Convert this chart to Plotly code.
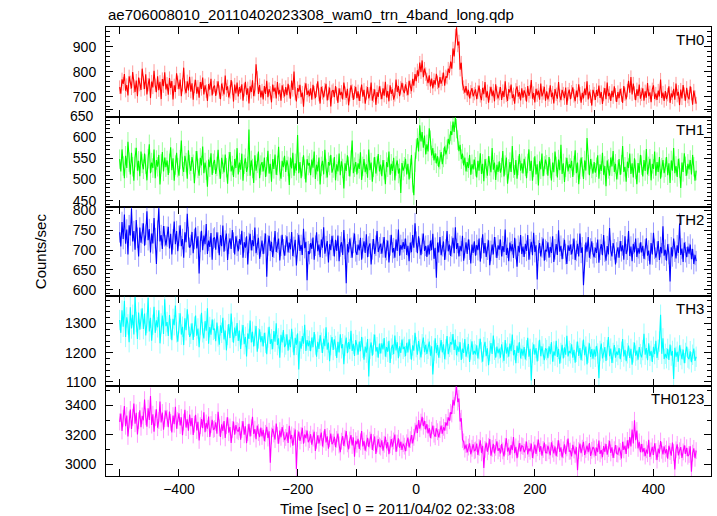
import plotly.graph_objects as go
from plotly.subplots import make_subplots

T_START = -500
T_STEP = 2

TH0 = [738, 712, 769, 751, 790, 724, 746, 705, 781, 757, 733, 798, 741, 719, 764, 702, 776, 748, 727, 812,
       756, 731, 789, 709, 748, 772, 694, 760, 737, 803, 745, 718, 781, 726, 759, 690, 770, 742, 797, 729,
       751, 708, 774, 735, 762, 689, 745, 719, 793, 757, 730, 768, 702, 748, 816, 736, 714, 761, 725, 779,
       720, 753, 688, 741, 767, 712, 739, 696, 758, 731, 776, 709, 745, 722, 683, 750, 728, 771, 705, 737,
       744, 703, 735, 761, 718, 690, 752, 729, 709, 784, 726, 741, 697, 719, 766, 734, 680, 748, 713, 756,
       701, 738, 716, 749, 684, 727, 759, 708, 733, 672, 741, 719, 765, 702, 728, 830, 775, 711, 746, 697,
       724, 689, 742, 711, 763, 698, 730, 715, 677, 748, 720, 736, 693, 758, 709, 727, 684, 745, 722, 701,
       738, 706, 751, 719, 692, 764, 727, 800, 712, 681, 734, 720, 747, 698, 716, 659, 729, 753, 707, 724,
       702, 733, 688, 747, 716, 694, 725, 761, 708, 672, 739, 715, 697, 728, 751, 685, 713, 736, 660, 721,
       726, 698, 742, 711, 675, 733, 706, 719, 689, 756, 714, 695, 731, 665, 708, 745, 722, 687, 716, 739,
       694, 721, 683, 709, 748, 700, 727, 672, 715, 738, 693, 711, 756, 684, 704, 729, 667, 718, 699, 741,
       716, 690, 733, 704, 759, 697, 722, 681, 745, 711, 729, 688, 707, 768, 719, 742, 702, 735, 755, 726,
       714, 749, 731, 706, 763, 738, 722, 771, 744, 790, 762, 805, 782, 836, 798, 845, 778, 812, 790, 769,
       754, 785, 741, 772, 733, 766, 748, 791, 757, 736, 778, 752, 769, 796, 744, 781, 776, 812, 795, 840,
       812, 893, 861, 944, 978, 905, 921, 808, 836, 752, 738, 716, 742, 705, 727, 693, 719, 734, 701, 712,
       729, 690, 718, 744, 703, 686, 735, 710, 758, 697, 721, 676, 713, 739, 702, 724, 681, 749, 715, 693,
       712, 738, 687, 722, 699, 761, 705, 683, 730, 716, 748, 694, 709, 672, 727, 741, 700, 718, 685, 733,
       696, 725, 711, 680, 742, 703, 719, 766, 692, 714, 677, 731, 706, 724, 688, 752, 701, 715, 739, 684,
       721, 689, 707, 745, 698, 716, 673, 730, 709, 692, 758, 704, 686, 727, 712, 694, 736, 667, 711, 728,
       690, 719, 737, 703, 682, 724, 698, 749, 711, 676, 715, 693, 732, 706, 761, 689, 720, 701, 664, 727,
       712, 687, 726, 703, 744, 695, 718, 671, 709, 734, 690, 756, 702, 715, 683, 723, 698, 741, 707, 679,
       718, 694, 731, 706, 675, 742, 710, 689, 724, 763, 716, 778, 709, 752, 714, 686, 729, 703, 748, 692,
       709, 733, 684, 721, 696, 754, 702, 717, 678, 729, 745, 691, 712, 687, 724, 701, 768, 695, 716, 683,
       722, 690, 708, 741, 675, 713, 697, 731, 688, 752, 704, 719, 666, 728, 693, 746, 710, 684, 735, 700,
       689, 741, 712, 668, 724, 698, 672]

TH1 = [548, 519, 571, 532, 503, 556, 527, 589, 541, 512, 563, 530, 497, 552, 575, 521, 544, 508, 566, 538,
       524, 561, 536, 498, 549, 583, 515, 540, 527, 571, 503, 546, 530, 558, 488, 537, 565, 519, 552, 529,
       545, 511, 538, 576, 522, 550, 497, 534, 563, 528, 509, 547, 592, 531, 518, 556, 540, 502, 569, 535,
       520, 553, 536, 491, 544, 567, 526, 509, 551, 533, 578, 515, 540, 522, 483, 547, 529, 562, 511, 538,
       546, 513, 531, 570, 524, 502, 551, 536, 517, 559, 528, 490, 542, 565, 519, 533, 506, 548, 527, 574,
       512, 540, 523, 561, 497, 536, 550, 518, 531, 618, 509, 545, 526, 492, 557, 521, 538, 566, 503, 534,
       541, 519, 552, 506, 530, 568, 514, 537, 495, 548, 525, 559, 511, 533, 577, 520, 502, 544, 529, 556,
       518, 545, 531, 487, 552, 526, 563, 509, 538, 521, 605, 515, 541, 503, 530, 557, 524, 493, 548, 533,
       539, 510, 547, 528, 566, 501, 535, 519, 552, 488, 531, 544, 512, 570, 526, 505, 541, 533, 558, 516,
       527, 553, 498, 536, 519, 561, 510, 543, 526, 479, 538, 520, 557, 531, 507, 546, 592, 515, 529, 541,
       512, 538, 525, 564, 499, 531, 548, 517, 536, 504, 571, 522, 540, 495, 529, 553, 514, 532, 560, 519,
       535, 508, 546, 523, 489, 541, 529, 566, 511, 537, 520, 551, 498, 532, 545, 514, 526, 468, 539, 521,
       530, 549, 512, 537, 500, 526, 558, 492, 463, 541, 572, 598, 566, 628, 590, 612, 575, 604, 559, 583,
       566, 621, 593, 557, 574, 545, 562, 538, 555, 529, 547, 565, 536, 552, 578, 559, 571, 596, 583, 614,
       605, 637, 612, 646, 620, 593, 567, 582, 548, 561, 533, 552, 519, 541, 527, 558, 511, 536, 524, 547,
       530, 505, 544, 521, 562, 513, 537, 496, 548, 526, 509, 555, 532, 517, 574, 523, 540, 499, 535, 518,
       543, 516, 528, 567, 507, 534, 552, 490, 525, 541, 518, 579, 527, 511, 546, 502, 533, 560, 521, 538,
       514, 549, 531, 503, 538, 571, 520, 544, 497, 529, 555, 512, 536, 486, 543, 524, 561, 508, 532, 547,
       535, 509, 553, 526, 498, 540, 517, 566, 531, 505, 547, 522, 582, 513, 538, 494, 529, 551, 519, 536,
       527, 544, 506, 533, 569, 515, 540, 489, 524, 552, 530, 501, 545, 521, 598, 535, 510, 548, 526, 514,
       541, 516, 529, 557, 502, 536, 520, 563, 511, 532, 484, 545, 525, 509, 552, 531, 567, 518, 537, 500,
       523, 548, 511, 535, 579, 518, 530, 495, 542, 527, 561, 513, 538, 505, 550, 524, 489, 539, 516, 558,
       534, 507, 546, 520, 572, 512, 531, 549, 498, 537, 525, 566, 509, 541, 518, 553, 502, 528, 546, 515,
       529, 553, 510, 538, 492, 545, 521, 574, 515, 532, 506, 549, 527, 480, 540, 518, 562, 531, 509, 537,
       524, 546, 512, 558, 530, 497, 521]

TH2 = [745, 709, 771, 728, 790, 716, 752, 689, 763, 737, 805, 722, 748, 701, 776, 731, 684, 757, 719, 742,
       768, 711, 739, 798, 725, 753, 694, 742, 717, 781, 730, 665, 749, 806, 722, 738, 703, 761, 735, 712,
       734, 759, 704, 741, 689, 727, 772, 715, 748, 697, 736, 763, 710, 728, 681, 745, 720, 792, 733, 706,
       713, 746, 692, 728, 757, 704, 735, 641, 721, 749, 700, 737, 715, 766, 690, 724, 708, 743, 676, 729,
       732, 701, 745, 719, 687, 738, 710, 762, 696, 724, 742, 675, 716, 730, 703, 751, 719, 689, 735, 711,
       697, 728, 714, 749, 681, 720, 706, 735, 664, 718, 741, 699, 725, 710, 757, 692, 714, 731, 678, 709,
       724, 690, 717, 742, 633, 712, 736, 698, 721, 683, 706, 748, 695, 719, 729, 674, 711, 739, 702, 686,
       712, 735, 694, 719, 702, 746, 685, 708, 726, 661, 717, 739, 698, 713, 688, 754, 705, 721, 624, 697,
       690, 718, 703, 732, 676, 711, 745, 697, 714, 682, 727, 706, 758, 691, 710, 723, 669, 715, 700, 736,
       711, 684, 726, 698, 737, 672, 709, 720, 688, 751, 703, 616, 715, 694, 729, 706, 681, 718, 742, 697,
       688, 714, 699, 731, 676, 705, 722, 693, 740, 682, 709, 717, 664, 702, 728, 690, 711, 748, 695, 707,
       716, 691, 707, 733, 681, 700, 724, 669, 712, 739, 694, 705, 681, 727, 698, 752, 686, 713, 701, 720,
       703, 729, 688, 711, 672, 719, 695, 738, 706, 768, 721, 692, 735, 704, 687, 716, 742, 698, 711, 683,
       712, 689, 724, 700, 741, 678, 706, 630, 719, 694, 733, 687, 710, 722, 675, 702, 748, 697, 714, 685,
       709, 731, 692, 758, 703, 718, 684, 711, 697, 736, 673, 705, 720, 690, 727, 701, 666, 714, 693, 722,
       686, 713, 700, 729, 671, 705, 740, 692, 718, 683, 701, 725, 662, 698, 714, 689, 733, 707, 680, 712,
       701, 727, 684, 710, 695, 752, 688, 706, 672, 719, 697, 715, 680, 731, 703, 658, 711, 694, 738, 690,
       709, 683, 716, 698, 738, 676, 702, 721, 687, 744, 695, 712, 626, 699, 718, 684, 707, 729, 673, 701,
       697, 720, 681, 708, 693, 735, 670, 702, 715, 688, 750, 696, 711, 677, 704, 726, 690, 665, 712, 698,
       714, 689, 703, 729, 675, 698, 716, 684, 742, 693, 707, 611, 688, 719, 696, 733, 681, 704, 722, 692,
       682, 706, 693, 727, 668, 701, 715, 687, 738, 696, 673, 710, 689, 756, 699, 684, 718, 702, 664, 694,
       707, 681, 723, 697, 712, 676, 735, 690, 701, 748, 685, 709, 672, 716, 694, 729, 683, 705, 691, 720,
       694, 711, 678, 702, 730, 686, 699, 664, 718, 689, 744, 703, 681, 696, 723, 675, 708, 692, 760, 686,
       701, 673, 715, 690, 621, 707, 684, 729, 696, 679, 712, 693, 767, 688, 704, 670, 719, 695, 682, 709,
       691, 714, 677, 703, 665, 688, 672]

TH3 = [1312, 1268, 1345, 1289, 1378, 1254, 1321, 1297, 1236, 1356, 1283, 1330, 1262, 1391, 1305, 1247, 1338, 1279, 1316, 1352,
       1281, 1334, 1259, 1302, 1388, 1273, 1320, 1241, 1296, 1357, 1268, 1311, 1287, 1345, 1232, 1300, 1327, 1264, 1383, 1291,
       1305, 1257, 1329, 1281, 1243, 1316, 1294, 1362, 1270, 1238, 1301, 1335, 1262, 1289, 1226, 1318, 1277, 1349, 1296, 1254,
       1265, 1301, 1244, 1289, 1327, 1258, 1283, 1219, 1296, 1337, 1270, 1249, 1308, 1275, 1352, 1231, 1288, 1262, 1314, 1278,
       1282, 1239, 1303, 1256, 1227, 1294, 1268, 1320, 1245, 1276, 1208, 1261, 1298, 1250, 1334, 1271, 1234, 1286, 1257, 1302,
       1240, 1276, 1213, 1261, 1295, 1229, 1254, 1187, 1266, 1247, 1310, 1235, 1272, 1221, 1258, 1291, 1203, 1249, 1280, 1236,
       1257, 1221, 1268, 1234, 1195, 1252, 1289, 1230, 1246, 1212, 1274, 1238, 1301, 1226, 1249, 1183, 1261, 1235, 1278, 1219,
       1228, 1263, 1207, 1245, 1219, 1282, 1236, 1191, 1251, 1227, 1266, 1142, 1239, 1214, 1257, 1231, 1296, 1206, 1243, 1222,
       1241, 1205, 1252, 1219, 1271, 1228, 1186, 1237, 1213, 1260, 1234, 1199, 1248, 1222, 1287, 1210, 1235, 1171, 1226, 1254,
       1209, 1246, 1223, 1182, 1237, 1201, 1263, 1215, 1229, 1160, 1224, 1252, 1198, 1236, 1212, 1275, 1206, 1230, 1189, 1243,
       1226, 1193, 1238, 1205, 1254, 1217, 1176, 1221, 1200, 1247, 1118, 1213, 1235, 1190, 1228, 1262, 1204, 1219, 1183, 1231,
       1197, 1232, 1211, 1250, 1186, 1219, 1203, 1241, 1165, 1214, 1227, 1195, 1259, 1208, 1236, 1181, 1222, 1199, 1245, 1213,
       1220, 1188, 1234, 1201, 1246, 1213, 1176, 1225, 1207, 1268, 1219, 1193, 1240, 1211, 1184, 1229, 1252, 1202, 1227, 1196,
       1213, 1238, 1190, 1222, 1125, 1207, 1249, 1198, 1226, 1183, 1216, 1243, 1201, 1229, 1178, 1211, 1257, 1195, 1220, 1236,
       1228, 1264, 1209, 1245, 1191, 1222, 1203, 1236, 1175, 1214, 1199, 1247, 1186, 1218, 1230, 1168, 1211, 1239, 1193, 1206,
       1194, 1225, 1180, 1212, 1248, 1201, 1169, 1219, 1237, 1188, 1215, 1157, 1206, 1233, 1196, 1259, 1210, 1183, 1221, 1198,
       1214, 1183, 1229, 1201, 1172, 1243, 1197, 1218, 1186, 1231, 1205, 1262, 1191, 1209, 1164, 1224, 1199, 1236, 1180, 1213,
       1190, 1219, 1177, 1208, 1251, 1186, 1213, 1105, 1200, 1229, 1193, 1216, 1170, 1207, 1244, 1188, 1222, 1196, 1174, 1215,
       1209, 1181, 1222, 1195, 1236, 1169, 1204, 1190, 1241, 1185, 1213, 1162, 1199, 1227, 1180, 1218, 1193, 1258, 1187, 1206,
       1198, 1229, 1183, 1210, 1166, 1203, 1238, 1189, 1216, 1174, 1207, 1245, 1191, 1221, 1160, 1200, 1232, 1185, 1212, 1179,
       1211, 1186, 1223, 1197, 1112, 1206, 1231, 1180, 1201, 1219, 1172, 1209, 1254, 1188, 1214, 1165, 1199, 1226, 1183, 1204,
       1192, 1216, 1178, 1203, 1247, 1187, 1210, 1171, 1198, 1224, 1182, 1213, 1159, 1201, 1235, 1190, 1207, 1176, 1219, 1195,
       1184, 1209, 1265, 1193, 1216, 1174, 1232, 1189, 1206, 1168, 1220, 1195, 1241, 1182, 1210, 1238, 1330, 1196, 1249, 1178,
       1196, 1181, 1213, 1175, 1228, 1190, 1206, 1110, 1217, 1186, 1203, 1169, 1225, 1192, 1178, 1211, 1164, 1199, 1221, 1183,
       1178, 1205, 1167, 1193, 1214, 1172, 1186]

TH0123 = [3287, 3344, 3226, 3312, 3395, 3258, 3331, 3189, 3302, 3371, 3240, 3318, 3412, 3275, 3349, 3203, 3296, 3366, 3251, 3328,
          3298, 3438, 3322, 3255, 3380, 3301, 3462, 3266, 3339, 3221, 3315, 3372, 3248, 3296, 3425, 3283, 3351, 3234, 3309, 3364,
          3312, 3251, 3358, 3284, 3216, 3330, 3272, 3389, 3241, 3297, 3345, 3263, 3318, 3197, 3286, 3370, 3249, 3305, 3228, 3337,
          3258, 3313, 3199, 3271, 3336, 3229, 3288, 3162, 3262, 3307, 3245, 3353, 3217, 3280, 3241, 3324, 3186, 3269, 3302, 3236,
          3241, 3284, 3208, 3356, 3247, 3185, 3271, 3226, 3293, 3179, 3262, 3318, 3214, 3253, 3145, 3237, 3289, 3201, 3266, 3230,
          3221, 3253, 3167, 3236, 3292, 3200, 3258, 3143, 3214, 3275, 3189, 3247, 3322, 3206, 3238, 3171, 3262, 3215, 3184, 3249,
          3189, 3233, 3157, 3210, 3254, 3178, 3224, 3010, 3192, 3241, 3205, 3168, 3276, 3196, 3139, 3228, 3183, 3252, 3207, 3164,
          3182, 3216, 3145, 3261, 3171, 3199, 3127, 3188, 3236, 2968, 3174, 3221, 3158, 3195, 3247, 3140, 3203, 3177, 3229, 3150,
          3167, 3204, 3133, 3178, 3221, 3090, 3163, 3196, 3142, 3184, 3215, 3121, 3170, 3239, 3148, 3189, 3106, 3174, 3208, 3137,
          3150, 3187, 3116, 3169, 3208, 3131, 3083, 3157, 3191, 3124, 3176, 3225, 3139, 3102, 3165, 3198, 3128, 3182, 3051, 3160,
          3136, 3173, 3104, 3152, 3225, 3121, 3159, 3092, 3143, 3180, 3117, 3164, 3206, 3098, 3147, 3189, 3070, 3138, 3171, 3125,
          3117, 3162, 3093, 3136, 3187, 3108, 3150, 3069, 3132, 3171, 3119, 3158, 3201, 3085, 3144, 3176, 3112, 3153, 3097, 3140,
          3123, 3089, 3146, 3181, 3114, 3167, 3198, 3142, 3183, 3224, 3267, 3213, 3300, 3241, 3286, 3322, 3258, 3295, 3236, 3272,
          3209, 3246, 3178, 3231, 3262, 3204, 3187, 3243, 3221, 3182, 3235, 3263, 3207, 3251, 3229, 3284, 3262, 3318, 3295, 3352,
          3341, 3437, 3398, 3489, 3527, 3421, 3446, 3290, 3312, 3168, 3152, 3103, 3134, 3081, 3117, 3142, 3068, 3109, 3136, 3092,
          3097, 3140, 3063, 3114, 3163, 3078, 3126, 2975, 3101, 3147, 3085, 3122, 3171, 3059, 3108, 3139, 3074, 3115, 3156, 3091,
          3109, 3073, 3138, 3091, 3054, 3122, 3176, 3086, 3113, 3064, 3131, 3097, 3185, 3075, 3118, 3042, 3104, 3143, 3088, 3126,
          3120, 3082, 3099, 3154, 3067, 3108, 3089, 3141, 3043, 3096, 3133, 3071, 3112, 3168, 3085, 3124, 3058, 3101, 3147, 3079,
          3078, 3126, 3092, 3061, 3149, 3103, 3074, 3121, 3056, 3107, 3162, 3084, 3115, 3047, 3098, 3136, 3069, 3111, 3175, 3088,
          3090, 3053, 3132, 3097, 3068, 3116, 2960, 3093, 3140, 3076, 3109, 3152, 3063, 3101, 3127, 3082, 3144, 3057, 3095, 3118,
          3104, 3059, 3113, 3082, 3161, 3071, 3096, 3048, 3124, 3085, 3138, 3066, 3107, 3159, 3077, 3115, 3044, 3099, 3131, 3072,
          3069, 3114, 3087, 3040, 3153, 3098, 3126, 3071, 3162, 3108, 3185, 3121, 3236, 3142, 3298, 3164, 3229, 3108, 3152, 3083,
          3137, 3083, 3110, 3056, 3099, 3072, 3166, 3050, 3091, 3119, 3064, 3143, 3087, 3029, 3106, 3074, 3158, 3095, 3068, 3121,
          3074, 3103, 3038, 3126, 3087, 3059, 3147, 3080, 2965, 3098, 3135, 3061, 3092, 3117, 3043, 3084, 3129, 3070, 3112, 3055,
          3067, 3122, 2950, 3076, 3108, 3041, 3093]

SERIES = [TH0, TH1, TH2, TH3, TH0123]
NAMES = ["TH0", "TH1", "TH2", "TH3", "TH0123"]
ERRORS = [27, 23, 26, 35, 57]
COLORS = ["#ff0000", "#00ff00", "#0000ff", "#00ffff", "#ff00ff"]
ERR_COLORS = ["rgba(255,0,0,0.4)", "rgba(0,255,0,0.4)", "rgba(0,0,255,0.4)",
              "rgba(0,255,255,0.4)", "rgba(255,0,255,0.4)"]
Y_RANGES = [[619, 979], [436, 648], [583, 810], [1085, 1393], [2921, 3529]]
Y_TICKS = [[650, 700, 800, 900], [450, 500, 550, 600], [600, 650, 700, 750, 800],
           [1100, 1200, 1300], [3000, 3200, 3400]]
Y_TICKTEXT = [["", "700", "800", "900"], ["450", "500", "550", "600"],
              ["600", "650", "700", "750", "800"], ["1100", "1200", "1300"],
              ["3000", "3200", "3400"]]
Y_MINOR = [20, 10, 10, 20, 100]
X_RANGE = [-523, 497]

TITLE = "ae706008010_20110402023308_wam0_trn_4band_long.qdp"
XTITLE = "Time [sec] 0 = 2011/04/02 02:33:08"
YTITLE = "Counts/sec"

lens = [len(s) for s in SERIES]
if len(set(lens)) != 1:
    raise ValueError("length mismatch: %s" % lens)

FONT = "Liberation Sans, Arial, Helvetica, sans-serif"

fig = make_subplots(rows=5, cols=1, shared_xaxes=True, vertical_spacing=0)

for i, vals in enumerate(SERIES):
    t = [T_START + T_STEP * k for k in range(len(vals))]
    fig.add_trace(go.Scatter(
        x=t, y=vals, mode="lines",
        line=dict(color=COLORS[i], width=1.1),
        error_y=dict(type="constant", value=ERRORS[i], color=ERR_COLORS[i],
                     thickness=1, width=0),
        showlegend=False, hoverinfo="skip"), row=i + 1, col=1)

    fig.update_yaxes(range=Y_RANGES[i], tickvals=Y_TICKS[i], ticktext=Y_TICKTEXT[i],
                     ticks="inside", ticklen=7, tickwidth=1, tickcolor="black",
                     minor=dict(dtick=Y_MINOR[i], ticks="inside", ticklen=4,
                                tickcolor="black", tickwidth=1),
                     showline=True, linecolor="black", linewidth=1,
                     mirror="ticks", showgrid=False, zeroline=False,
                     ticklabelstandoff=6,
                     tickfont=dict(size=14, color="black", family=FONT),
                     row=i + 1, col=1)
    fig.update_xaxes(range=X_RANGE, dtick=200, tick0=0, ticks="inside",
                     ticklen=7, tickwidth=1, tickcolor="black",
                     minor=dict(dtick=100, ticks="inside", ticklen=7,
                                tickcolor="black", tickwidth=1),
                     showline=True, linecolor="black", linewidth=1,
                     mirror="ticks", showgrid=False, zeroline=False,
                     tickfont=dict(size=14, color="black", family=FONT),
                     row=i + 1, col=1)

annotations = [
    dict(text=TITLE, xref="paper", yref="paper", x=0, y=1.027,
         xanchor="left", yanchor="middle", showarrow=False,
         font=dict(size=15, color="black", family=FONT)),
    dict(text=XTITLE, xref="paper", yref="paper", x=0.481, y=-0.0713,
         xanchor="center", yanchor="middle", showarrow=False,
         font=dict(size=15, color="black", family=FONT)),
    dict(text=YTITLE, xref="paper", yref="paper", x=-0.108, y=0.5,
         xanchor="center", yanchor="middle", textangle=-90, showarrow=False,
         font=dict(size=15, color="black", family=FONT)),
    dict(text="650", xref="paper", yref="paper", x=0, y=0.8022,
         xanchor="right", yanchor="middle", xshift=-10, showarrow=False,
         font=dict(size=14, color="black", family=FONT)),
]
for i, name in enumerate(NAMES):
    top = 1 - i / 5.0
    annotations.append(dict(text=name, xref="paper", yref="paper", x=1, y=top,
                            xanchor="right", yanchor="top", xshift=-5, yshift=-2,
                            showarrow=False,
                            font=dict(size=15, color="black", family=FONT)))

fig.update_layout(width=717, height=516,
                  margin=dict(l=106, r=6, t=27, b=40),
                  paper_bgcolor="white", plot_bgcolor="white",
                  annotations=annotations, showlegend=False)

fig.write_html("out.html", config={"displayModeBar": False},
               post_script="document.body.style.margin='0';document.body.style.overflow='hidden';")
